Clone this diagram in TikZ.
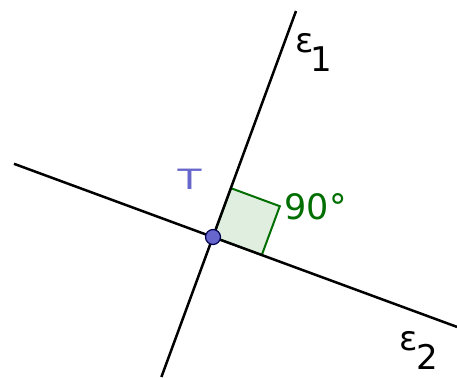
\documentclass[tikz,border=0pt]{standalone}
\usepackage{fontspec}
\setmainfont{DejaVu Sans}
\definecolor{ptblue}{RGB}{102,102,204}
\definecolor{anggreen}{RGB}{0,110,0}
\definecolor{angfill}{RGB}{224,238,224}
\begin{document}
\begin{tikzpicture}[x=1pt,y=-1pt,
  linestyle/.style={line width=2.5pt,black},
  lbl/.style={inner sep=0pt,anchor=base west},
  sub/.style={font=\fontsize{34}{34}\selectfont}]
\useasboundingbox (0,0) rectangle (457,377);
\coordinate (T) at (213,237);
\coordinate (e1top) at (296,11);
\coordinate (e1bot) at (161.4,377);
\coordinate (e2l) at (14,163.8);
\coordinate (e2r) at (457,326.9);
\coordinate (A) at (231,188.2);
\coordinate (B) at (279.8,206.2);
\coordinate (C) at (261.8,255);
\filldraw[fill=angfill,draw=anggreen,line width=2pt,line join=miter] (T) -- (A) -- (B) -- (C) -- cycle;
\draw[linestyle] (e1bot) -- (e1top);
\draw[linestyle] (e2l) -- (e2r);
\node[circle,fill=ptblue,draw=black!70!blue,line width=1.2pt,minimum size=15pt,inner sep=0pt] (Tpt) at (T) {};
\node[lbl,text=ptblue,font=\fontsize{28}{28}\selectfont] (Tl) at (177.5,189.5) {\scalebox{1.4}[1]{T}};
\node[lbl,text=anggreen,font=\fontsize{35}{35}\selectfont] (ang) at (284.4,219) {90°};
\node[lbl,sub] (e1) at (295,53) {ε\kern-3pt\raisebox{-19pt}{1}};
\node[lbl,sub] (e2) at (399,350) {ε\kern-1.5pt\raisebox{-19pt}{2}};
\end{tikzpicture}
\end{document}
